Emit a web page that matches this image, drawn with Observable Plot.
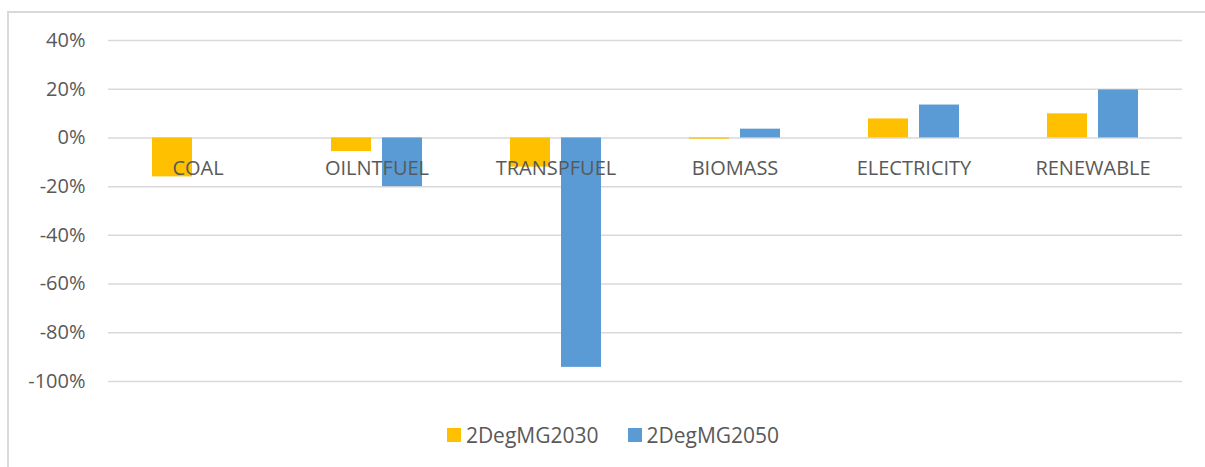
<!DOCTYPE html>
<html>
<head>
<meta charset="utf-8">
<script src="https://cdn.jsdelivr.net/npm/d3@7"></script>
<script src="https://cdn.jsdelivr.net/npm/@observablehq/plot@0.6"></script>
<style>
  html, body { margin: 0; padding: 0; background: #fff; }
  body { width: 1205px; height: 467px; position: relative; overflow: hidden; font-family: "Open Sans", sans-serif; }
  #frame { position: absolute; left: 7px; top: 11px; width: 1210px; height: 470px; border-left: 2px solid #d9d9d9; border-top: 2px solid #d9d9d9; box-sizing: border-box; }
  #chart { position: absolute; left: 0; top: 0; }
  #legend { position: absolute; left: 0; top: 421px; width: 1226px; display: flex; justify-content: center; gap: 29px; font-size: 21px; color: #595959; }
  #legend .item { display: flex; align-items: center; }
  #legend .sw { width: 14px; height: 14px; margin-right: 5px; }
</style>
</head>
<body>
<div id="frame"></div>
<div id="chart"></div>
<div id="legend"></div>
<script>
const categories = ["COAL", "OILNTFUEL", "TRANSPFUEL", "BIOMASS", "ELECTRICITY", "RENEWABLE"];
const seriesNames = ["2DegMG2030", "2DegMG2050"];
const values2030 = [-0.16, -0.056, -0.12, -0.005, 0.078, 0.099];
const values2050 = [0, -0.20, -0.942, 0.036, 0.135, 0.197];
const yTicks = [0.4, 0.2, 0, -0.2, -0.4, -0.6, -0.8, -1.0];
const colors = ["#FFC000", "#5B9BD5"];

const data = [];
categories.forEach((c, i) => {
  data.push({category: c, series: seriesNames[0], value: values2030[i]});
  data.push({category: c, series: seriesNames[1], value: values2050[i]});
});

const chart = Plot.plot({
  width: 1205,
  height: 410,
  marginLeft: 108,
  marginRight: 23,
  marginTop: 40,
  marginBottom: 29,
  style: {fontFamily: "'Open Sans', sans-serif", background: "transparent"},
  fx: {domain: categories, padding: 0, axis: null},
  x: {domain: seriesNames, paddingInner: 11 / 51, paddingOuter: 0.8627, axis: null},
  y: {domain: [-1.0, 0.4], axis: null},
  color: {domain: seriesNames, range: colors},
  marks: [
    Plot.gridY(yTicks, {stroke: "#d9d9d9", strokeOpacity: 1, strokeWidth: 1.5}),
    Plot.axisY(yTicks, {
      label: null,
      tickSize: 0,
      tickPadding: 23,
      tickFormat: d => Math.round(d * 100) + "%",
      fontSize: 20,
      fill: "#595959",
      facetAnchor: "left"
    }),
    Plot.barY(data, {fx: "category", x: "series", y: "value", fill: "series"}),
    Plot.text(categories, {fx: d => d, y: () => 0, dy: 31, text: d => d, fontSize: 20, fill: "#595959"})
  ]
});
document.getElementById("chart").appendChild(chart);

const legend = document.getElementById("legend");
seriesNames.forEach((s, i) => {
  const item = document.createElement("div");
  item.className = "item";
  const sw = document.createElement("div");
  sw.className = "sw";
  sw.style.background = colors[i];
  const label = document.createElement("span");
  label.textContent = s;
  item.appendChild(sw);
  item.appendChild(label);
  legend.appendChild(item);
});
</script>
</body>
</html>
